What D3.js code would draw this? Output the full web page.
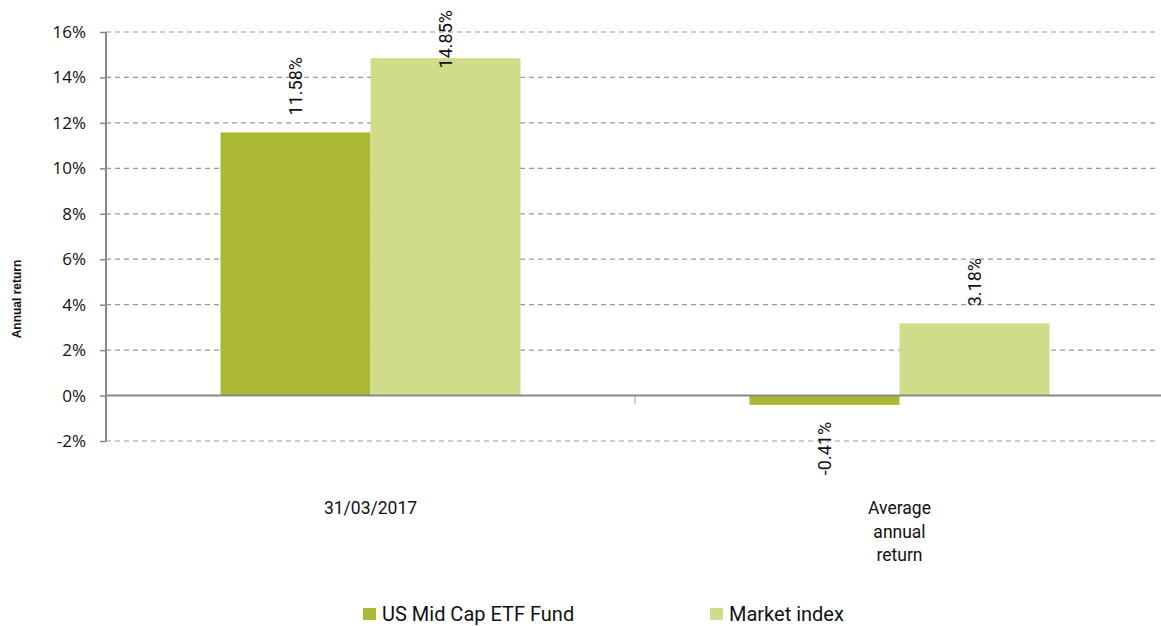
<!DOCTYPE html>
<html>
<head>
    <meta charset="utf-8">
    <script src="https://d3js.org/d3.v7.min.js"></script>
    <style>
        body { margin: 0; background: #fff; }
    </style>
</head>
<body>
    <svg width="1161" height="626" id="mainSvg"></svg>
    <script>
        // data
        const categories = [["31/03/2017"], ["Average", "annual", "return"]];
        const seriesNames = ["US Mid Cap ETF Fund", "Market index"];
        const fundValues = [11.58, -0.41];
        const indexValues = [14.85, 3.18];
        const yTicks = [-2, 0, 2, 4, 6, 8, 10, 12, 14, 16];
        const colors = ["#abb834", "#d1dc8b"];

        const svg = d3.select("#mainSvg");
        const plotLeft = 106, plotRight = 1164, plotTop = 32, plotBottom = 441;
        const catKeys = categories.map(c => c.join(" "));

        const x0 = d3.scaleBand().domain(catKeys).range([plotLeft, plotRight]);
        const barW = 150;
        const x1 = d3.scaleBand().domain(seriesNames)
            .range([x0.bandwidth() / 2 - barW, x0.bandwidth() / 2 + barW]);
        const y = d3.scaleLinear().domain([-2, 16]).range([plotBottom, plotTop]);

        const rows = catKeys.map((k, i) => ({
            key: k,
            vals: [
                { s: seriesNames[0], v: fundValues[i] },
                { s: seriesNames[1], v: indexValues[i] }
            ]
        }));

        // grid lines
        svg.append("g").selectAll("line").data(yTicks.filter(t => t !== 0)).join("line")
            .attr("x1", plotLeft).attr("x2", 1158)
            .attr("y1", d => y(d)).attr("y2", d => y(d))
            .attr("stroke", "#999").attr("stroke-width", 1.2)
            .attr("stroke-dasharray", "5,4");

        // bars
        const groups = svg.append("g").selectAll("g").data(rows).join("g")
            .attr("transform", d => `translate(${x0(d.key)},0)`);

        groups.selectAll("rect").data(d => d.vals).join("rect")
            .attr("x", d => x1(d.s))
            .attr("width", x1.bandwidth())
            .attr("y", d => y(Math.max(0, d.v)))
            .attr("height", d => Math.abs(y(d.v) - y(0)))
            .attr("fill", (d, i) => colors[i]);

        // value labels, rotated
        groups.selectAll("text").data(d => d.vals).join("text")
            .attr("font-family", "Roboto, sans-serif")
            .attr("font-size", 18)
            .attr("fill", "#111")
            .attr("text-anchor", d => d.v >= 0 ? "start" : "end")
            .text(d => d.v.toFixed(2) + "%")
            .attr("transform", function (d) {
                const cx = x1(d.s) + x1.bandwidth() / 2 + 6;
                let py;
                if (d.v >= 0) {
                    const len = this.getComputedTextLength();
                    py = Math.max(y(d.v) - 17, 10 + len);
                } else {
                    py = y(d.v) + 17;
                }
                return `translate(${cx},${py}) rotate(-90)`;
            });

        // zero line
        svg.append("line")
            .attr("x1", plotLeft).attr("x2", 1161)
            .attr("y1", y(0)).attr("y2", y(0))
            .attr("stroke", "#888").attr("stroke-width", 2);

        // category separator tick
        svg.append("line")
            .attr("x1", x0(catKeys[1])).attr("x2", x0(catKeys[1]))
            .attr("y1", y(0)).attr("y2", y(0) + 8)
            .attr("stroke", "#999").attr("stroke-width", 1);

        // y axis
        const yAxis = svg.append("g")
            .attr("transform", `translate(${plotLeft},0)`)
            .call(d3.axisLeft(y).tickValues(yTicks).tickSize(6).tickPadding(14)
                .tickFormat(d => d + "%"));
        yAxis.select(".domain").attr("stroke", "#888").attr("stroke-width", 2)
            .attr("d", `M0,${plotTop}V${plotBottom}`);
        yAxis.selectAll(".tick line").attr("stroke", "#888").attr("stroke-width", 1.5);
        yAxis.selectAll(".tick text")
            .attr("font-family", "'Open Sans', sans-serif")
            .attr("font-size", 17)
            .attr("fill", "#111");

        // axis title
        svg.append("text")
            .attr("transform", "translate(21,299) rotate(-90)")
            .attr("text-anchor", "middle")
            .attr("font-family", "'Liberation Sans', Arial, sans-serif")
            .attr("font-weight", "bold")
            .attr("font-size", 12)
            .attr("fill", "#111")
            .text("Annual return");

        // category labels
        svg.append("g").selectAll("text").data(categories).join("text")
            .attr("x", (d, i) => x0(catKeys[i]) + x0.bandwidth() / 2)
            .attr("y", 514)
            .attr("text-anchor", "middle")
            .attr("font-family", "Roboto, sans-serif")
            .attr("font-size", 17.5)
            .attr("fill", "#111")
            .selectAll("tspan").data(d => d).join("tspan")
            .attr("x", function () { return d3.select(this.parentNode).attr("x"); })
            .attr("dy", (d, i) => i === 0 ? 0 : 23.5)
            .text(d => d);

        // legend
        const legendX = [363, 710];
        const legend = svg.append("g").selectAll("g").data(seriesNames).join("g")
            .attr("transform", (d, i) => `translate(${legendX[i]},608)`);
        legend.append("rect")
            .attr("width", 13).attr("height", 12)
            .attr("fill", (d, i) => colors[i]);
        legend.append("text")
            .attr("x", 19).attr("y", 13)
            .attr("font-family", "Roboto, sans-serif")
            .attr("font-size", 20)
            .attr("fill", "#111")
            .text(d => d);
    </script>
</body>
</html>
